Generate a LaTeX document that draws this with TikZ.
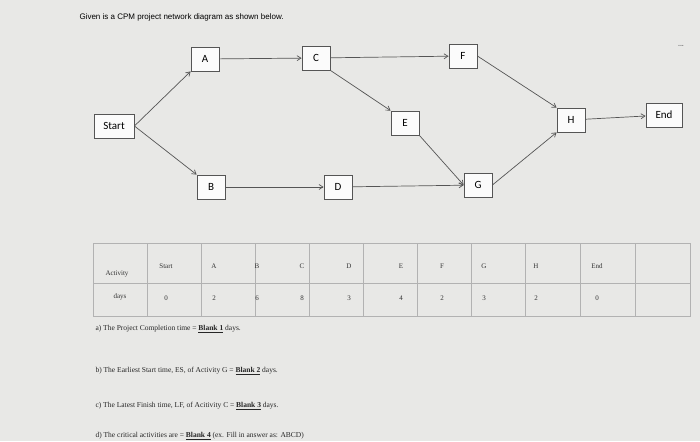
\documentclass[tikz,border=0pt]{standalone}
\usepackage{fontspec}
\setmainfont{Liberation Serif}
\newfontfamily\carfont{Carlito}
\newfontfamily\arifont{Liberation Sans}
\usetikzlibrary{arrows.meta}
\definecolor{bg}{HTML}{E8E8E6}
\definecolor{ln}{HTML}{555555}
\tikzset{
 box/.style={draw=ln,fill=white!97!gray,line width=0.8pt,minimum height=24pt,inner sep=2pt,font=\carfont\fontsize{11}{12}\selectfont},
 con/.style={draw=ln,line width=0.7pt,-{Straight Barb[length=4pt,width=5pt]}},
 tl/.style={draw=gray!60,line width=0.4pt},
 tt/.style={font=\fontsize{7}{8}\selectfont,text=black!80},
 q/.style={font=\fontsize{7.5}{9}\selectfont,anchor=west,text=black!85}
}
\begin{document}
\begin{tikzpicture}[x=1pt,y=-1pt]
\fill[bg] (0,0) rectangle (700,441);
\useasboundingbox (0,0) rectangle (700,441);
\node[anchor=west,font=\arifont\fontsize{8}{9}\selectfont] (title) at (76,17) {Given is a CPM project network diagram as shown below.};
\node[font=\arifont\bfseries\fontsize{7}{8}\selectfont,text=gray] (dots) at (681,46) {...};
\node[box,minimum width=40pt] (S) at (114,126) {Start};
\node[box,minimum width=28pt] (A) at (205,59) {A};
\node[box,minimum width=28pt] (C) at (316,58) {C};
\node[box,minimum width=28pt] (F) at (463,56) {F};
\node[box,minimum width=28pt] (E) at (405,123) {E};
\node[box,minimum width=28pt] (H) at (571,120) {H};
\node[box,minimum width=36pt] (End) at (664,115) {End};
\node[box,minimum width=28pt] (B) at (211,187) {B};
\node[box,minimum width=28pt] (D) at (338,187) {D};
\node[box,minimum width=28pt] (G) at (478,185) {G};
\draw[con] (S.east) -- (A.south west);
\draw[con] (S.east) -- (B.north west);
\draw[con] (A) -- (C);
\draw[con] (C) -- (F);
\draw[con] (C.south east) -- (E.north west);
\draw[con] (F.east) -- (H.north west);
\draw[con] (E.south east) -- (G.west);
\draw[con] (B) -- (D);
\draw[con] (D) -- (G);
\draw[con] (G.east) -- (H.south west);
\draw[con] (H) -- (End);
% table
\draw[tl] (93,243) rectangle (690,316);
\draw[tl] (93,283) -- (690,283);
\foreach \x in {147,201,255,309,363,417,471,525,580,635}
  \draw[tl] (\x,243) -- (\x,316);
\node[tt] (ha) at (117,274) {Activity};
\node[tt] (hd) at (120,297) {days};
\foreach \x/\n/\d [count=\i] in {166/Start/0,214/A/2,257/B/6,302/C/8,349/D/3,401/E/4,442/F/2,484/G/3,536/H/2,597/End/0}{
  \node[tt] (h\i) at (\x,266) {\n};
  \node[tt] (d\i) at (\x,298) {\d};
}
\node[q] (qa) at (92,329) {a) The Project Completion time = \textbf{\underline{Blank 1}} days.};
\node[q] (qb) at (92,371) {b) The Earliest Start time, ES, of Activity G = \textbf{\underline{Blank 2}} days.};
\node[q] (qc) at (92,406) {c) The Latest Finish time, LF, of Acitivity C = \textbf{\underline{Blank 3}} days.};
\node[q] (qd) at (92,436) {d) The critical activities are = \textbf{\underline{Blank 4}} (ex. Fill in answer as: ABCD)};
\end{tikzpicture}
\end{document}
